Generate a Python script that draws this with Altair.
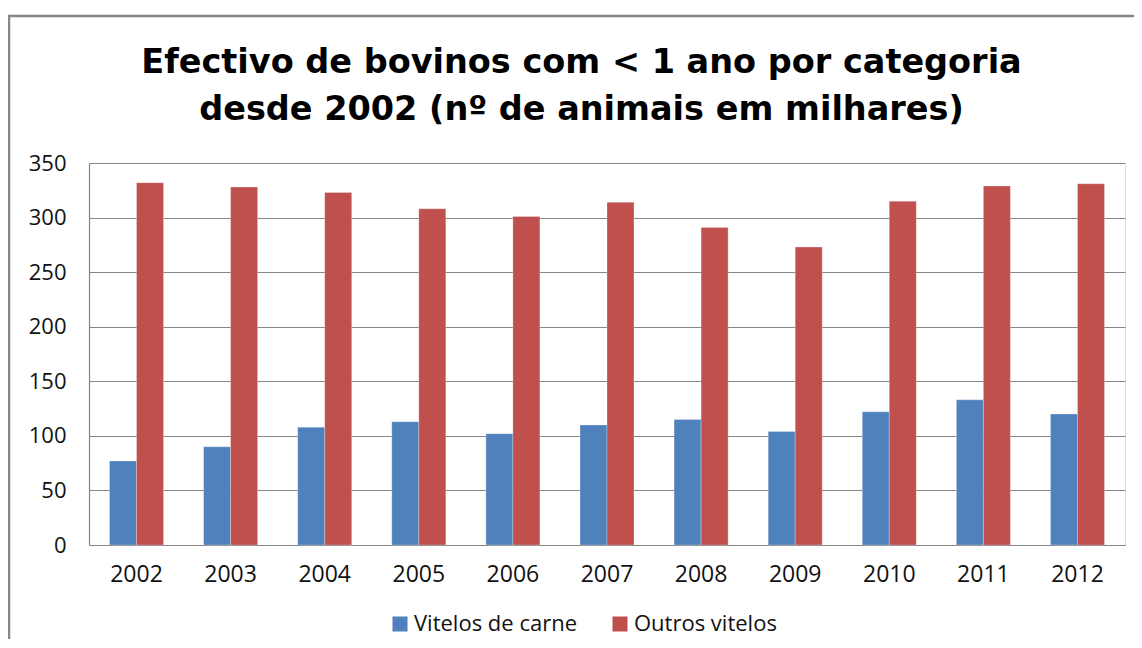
import altair as alt
import pandas as pd

years = ["2002", "2003", "2004", "2005", "2006", "2007", "2008", "2009", "2010", "2011", "2012"]
vitelos_carne = [77, 90, 108, 113, 102, 110, 115, 104, 122, 133, 120]
outros_vitelos = [332, 328, 323, 308, 301, 314, 291, 273, 315, 329, 331]
series_names = ["Vitelos de carne", "Outros vitelos"]
series_colors = ["#4F81BD", "#C0504D"]
y_ticks = [0, 50, 100, 150, 200, 250, 300, 350]
title_lines = ["Efectivo de bovinos com < 1 ano por categoria",
               "desde 2002 (nº de animais em milhares)"]

rows = []
for i, yr in enumerate(years):
    rows.append({"ano": yr, "serie": series_names[0], "valor": vitelos_carne[i]})
    rows.append({"ano": yr, "serie": series_names[1], "valor": outros_vitelos[i]})
df = pd.DataFrame(rows)

FONT = "Open Sans"

bars = alt.Chart(df).mark_bar(stroke="#FFFFFF", strokeWidth=0.6, strokeOpacity=0.45).encode(
    x=alt.X("ano:N", title=None,
            scale=alt.Scale(paddingInner=0.426, paddingOuter=0.218),
            axis=alt.Axis(labelAngle=0, ticks=False, labelPadding=18, labelFontSize=23,
                          labelFont=FONT, labelColor="#111111",
                          domainColor="#868686", domainWidth=1.2, grid=False)),
    xOffset=alt.XOffset("serie:N", sort=series_names,
                        scale=alt.Scale(paddingInner=0, paddingOuter=0)),
    y=alt.Y("valor:Q", title=None,
            scale=alt.Scale(domain=[0, 350], nice=False),
            axis=alt.Axis(values=y_ticks, ticks=False, labelPadding=23, labelFontSize=22,
                          labelFont=FONT, labelColor="#111111",
                          domainColor="#868686", domainWidth=1.2,
                          gridColor="#868686", gridWidth=1.2)),
    color=alt.Color("serie:N", sort=series_names,
                    scale=alt.Scale(domain=series_names, range=series_colors),
                    legend=alt.Legend(title=None, orient="none", direction="horizontal",
                                      legendX=300, legendY=450, symbolType="square",
                                      symbolSize=225, symbolStrokeWidth=0,
                                      labelFontSize=22, labelFont=FONT, labelColor="#111111",
                                      labelLimit=400,
                                      labelOffset=3, columnPadding=32, padding=0)),
)

frame = alt.Chart(pd.DataFrame({"f": [0]})).mark_rect(
    fillOpacity=0, stroke="#878787", strokeWidth=2.5
).encode(
    x=alt.value(-80), x2=alt.value(1200),
    y=alt.value(-147), y2=alt.value(700),
)

title = alt.Chart(pd.DataFrame({"t": ["\n".join(title_lines)]})).mark_text(
    font="DejaVu Sans", fontSize=33.5, fontWeight="bold", color="#000000",
    align="center", baseline="alphabetic", lineBreak="\n", lineHeight=47,
).encode(
    text="t:N",
    x=alt.value(492.5), y=alt.value(-90),
)

chart = alt.layer(bars, frame, title).properties(
    width=1036, height=382,
    padding={"left": 81, "top": 155, "right": 9, "bottom": 94},
    autosize=alt.AutoSizeParams(type="none"),
).configure_view(stroke=None).configure(background="#FFFFFF")

chart.save("out.html", embed_options={"renderer": "svg", "actions": False})
